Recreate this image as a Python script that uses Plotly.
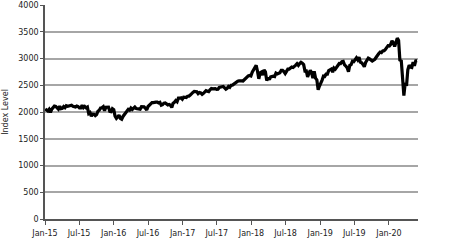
import pandas as pd
import plotly.graph_objects as go

start_date = "2015-01-02"
index_level = [
    # 2015
    2058, 2045, 2019, 2051, 1995, 2055, 2097, 2110, 2105, 2071, 2053, 2108, 2061,
    2067, 2102, 2081, 2117, 2108, 2116, 2123, 2126, 2107, 2092, 2094, 2110, 2102,
    2077, 2076, 2127, 2080, 2104, 2078, 2092, 1971, 1989, 1921, 1961, 1958, 1932,
    1951, 2015, 2033, 2075, 2079, 2099, 2023, 2089, 2090, 2092, 2012, 2006, 2061, 2044,
    # 2016
    1922, 1880, 1907, 1940, 1880, 1865, 1917, 1948, 2000, 2022, 2050, 2035, 2073,
    2048, 2081, 2092, 2065, 2057, 2047, 2053, 2099, 2099, 2096, 2071, 2037, 2103,
    2130, 2162, 2175, 2174, 2183, 2184, 2184, 2169, 2180, 2128, 2139, 2165, 2168,
    2153, 2133, 2141, 2126, 2085, 2164, 2182, 2213, 2192, 2260, 2258, 2264, 2239,
    # 2017
    2277, 2275, 2271, 2295, 2297, 2316, 2351, 2367, 2383, 2373, 2378, 2344, 2363,
    2355, 2329, 2349, 2384, 2399, 2390, 2382, 2416, 2439, 2432, 2433, 2438, 2423,
    2425, 2459, 2473, 2472, 2477, 2441, 2426, 2443, 2477, 2461, 2500, 2502, 2519,
    2549, 2553, 2575, 2581, 2588, 2582, 2579, 2602, 2642, 2652, 2675, 2683, 2674,
    # 2018
    2743, 2786, 2810, 2873, 2762, 2620, 2732, 2747, 2691, 2786, 2752, 2588, 2641,
    2604, 2656, 2670, 2670, 2663, 2728, 2713, 2721, 2735, 2779, 2780, 2755, 2718,
    2760, 2801, 2802, 2819, 2840, 2833, 2850, 2875, 2902, 2872, 2905, 2930, 2914,
    2886, 2767, 2768, 2658, 2723, 2781, 2736, 2633, 2760, 2633, 2600, 2417, 2486,
    # 2019
    2532, 2596, 2671, 2665, 2707, 2708, 2776, 2793, 2804, 2743, 2822, 2800, 2834,
    2893, 2907, 2905, 2940, 2946, 2881, 2860, 2826, 2752, 2873, 2887, 2950, 2942,
    2990, 3014, 2977, 3026, 2932, 2919, 2889, 2847, 2926, 2979, 3007, 2992, 2962,
    2952, 2970, 2986, 3023, 3067, 3093, 3120, 3110, 3141, 3146, 3169, 3221, 3240,
    # 2020
    3235, 3265, 3330, 3295, 3226, 3328, 3380, 3338, 2954, 2972, 2711, 2305, 2541,
    2489, 2790, 2875, 2837, 2831, 2930, 2864, 2955, 2960,
]
y_ticks = [0, 500, 1000, 1500, 2000, 2500, 3000, 3500, 4000]
y_title = "Index Level"

dates = pd.date_range(start_date, periods=len(index_level), freq="W-FRI")

fig = go.Figure()
fig.add_trace(go.Scatter(
    x=dates, y=index_level, mode="lines",
    line=dict(color="black", width=3.2),
    showlegend=False, hoverinfo="skip",
))

font = dict(family="DejaVu Sans", size=8, color="#222")
fig.update_layout(
    width=450, height=250,
    margin=dict(l=45, r=32, t=5, b=31),
    paper_bgcolor="white", plot_bgcolor="white",
    font=font,
    xaxis=dict(
        type="date", automargin=False,
        range=["2015-01-01", "2020-06-03"],
        tick0="2015-01-01", dtick="M6", tickformat="%b-%y",
        showgrid=False, showline=True, linecolor="#555", linewidth=1.5,
        ticks="outside", ticklen=4, tickwidth=1, tickcolor="#555",
        ticklabelstandoff=2,
        tickfont=font,
    ),
    yaxis=dict(
        range=[0, 4000], tickvals=y_ticks, automargin=False,
        showgrid=True, gridcolor="#a6a6a6", gridwidth=1.5,
        zeroline=False,
        showline=True, linecolor="#555", linewidth=1.5,
        ticks="outside", ticklen=3, tickwidth=1, tickcolor="#555",
        tickfont=font,
        title=dict(text=y_title, font=font, standoff=8),
    ),
)

fig.write_html("out.html")
